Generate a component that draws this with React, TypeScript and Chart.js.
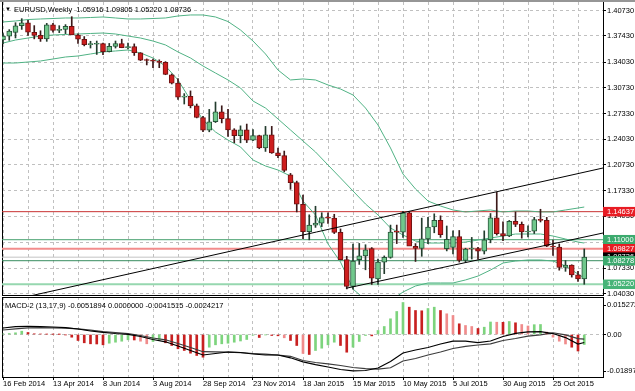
import React, { useEffect, useRef } from 'react';
import { Chart, registerables } from 'chart.js';

Chart.register(...registerables);

// ---------- weekly EURUSD candles, 16 Feb 2014 .. 29 Nov 2015 ----------
const opens = [1.3692,1.3740,1.3790,1.3875,1.3912,1.3791,1.3750,1.3705,1.3886,1.3813,1.3829,1.3868,1.3755,1.3700,1.3630,1.3635,1.3643,1.3540,1.3608,1.3645,1.3590,1.3605,1.3525,1.3430,1.3425,1.3415,1.3400,1.3240,1.3130,1.2950,1.2960,1.2835,1.2685,1.2520,1.2630,1.2760,1.2670,1.2525,1.2450,1.2525,1.2390,1.2450,1.2290,1.2460,1.2226,1.2190,1.1940,1.1840,1.1560,1.1205,1.1290,1.1315,1.1388,1.1380,1.1195,1.0842,1.0495,1.0840,1.0890,1.0985,1.0590,1.0810,1.0870,1.1200,1.1198,1.1450,1.1015,1.0986,1.1110,1.1265,1.1350,1.0985,1.1000,1.1140,1.0830,1.0980,1.0985,1.0950,1.1100,1.1385,1.1180,1.1150,1.1340,1.1300,1.1200,1.1210,1.1360,1.1350,1.1015,1.1005,1.0740,1.0770,1.0645,1.05916];
const highs = [1.3773,1.3825,1.3915,1.3967,1.3947,1.3877,1.3810,1.3906,1.3905,1.3876,1.3890,1.3993,1.3770,1.3735,1.3674,1.3677,1.3652,1.3646,1.3677,1.3701,1.3650,1.3640,1.3526,1.3445,1.3444,1.3433,1.3410,1.3250,1.3190,1.2995,1.3030,1.2860,1.2700,1.2790,1.2886,1.2837,1.2790,1.2540,1.2577,1.2600,1.2530,1.2456,1.2570,1.2570,1.2290,1.2250,1.1960,1.1860,1.1680,1.1423,1.1534,1.1450,1.1450,1.1430,1.1240,1.0885,1.1043,1.1052,1.1035,1.0998,1.0850,1.0890,1.1290,1.1290,1.1467,1.1460,1.1050,1.1380,1.1390,1.1436,1.1410,1.1278,1.1215,1.1220,1.0990,1.1130,1.1000,1.1215,1.1440,1.1714,1.1333,1.1350,1.1460,1.1330,1.1280,1.1390,1.1495,1.1390,1.1095,1.1045,1.0830,1.0775,1.0690,1.09805];
const lows = [1.3642,1.3686,1.3717,1.3828,1.3749,1.3705,1.3672,1.3673,1.3793,1.3786,1.3773,1.3758,1.3647,1.3614,1.3586,1.3503,1.3500,1.3535,1.3586,1.3590,1.3575,1.3490,1.3423,1.3367,1.3333,1.3331,1.3240,1.3120,1.2920,1.2860,1.2810,1.2680,1.2500,1.2500,1.2620,1.2615,1.2440,1.2358,1.2357,1.2360,1.2385,1.2280,1.2245,1.2220,1.2165,1.1980,1.1754,1.1460,1.1115,1.1098,1.1260,1.1270,1.1310,1.1180,1.0840,1.0462,1.0458,1.0780,1.0710,1.0520,1.0520,1.0660,1.0860,1.1050,1.1130,1.1050,1.0818,1.0885,1.1050,1.1190,1.1130,1.0955,1.0915,1.0810,1.0808,1.0850,1.0848,1.0915,1.1060,1.1160,1.1087,1.1140,1.1270,1.1120,1.1135,1.1180,1.1330,1.1010,1.0895,1.0705,1.0690,1.0615,1.0560,1.05220];
const closes = [1.3740,1.3805,1.3875,1.3912,1.3791,1.3750,1.3705,1.3886,1.3813,1.3829,1.3868,1.3755,1.3700,1.3630,1.3635,1.3643,1.3540,1.3608,1.3645,1.3590,1.3605,1.3525,1.3430,1.3425,1.3415,1.3400,1.3245,1.3130,1.2950,1.2960,1.2835,1.2685,1.2520,1.2630,1.2760,1.2670,1.2525,1.2450,1.2525,1.2390,1.2450,1.2290,1.2460,1.2226,1.2190,1.2000,1.1840,1.1560,1.1205,1.1290,1.1315,1.1388,1.1380,1.1195,1.0842,1.0495,1.0822,1.0892,1.0970,1.0600,1.0810,1.0870,1.1200,1.1198,1.1450,1.1015,1.0986,1.1110,1.1265,1.1350,1.1165,1.1105,1.1140,1.0830,1.0980,1.0985,1.0950,1.1100,1.1385,1.1180,1.1150,1.1340,1.1300,1.1200,1.1210,1.1360,1.1350,1.1015,1.1005,1.0740,1.0770,1.0645,1.0590,1.08736];

// Bollinger bands (bar index -> price)
const bandIdx = [0,2,4,6,8,10,12,14,16,18,20,22,24,26,28,30,32,34,36,38,40,42,44,46,48,50,52,54,56,58,60,62,64,66,68,70,72,74,76,78,80,82,84,86,88,90,92,93];
const bandUpper = [1.3924,1.3937,1.3956,1.3963,1.3969,1.3976,1.3976,1.3982,1.3989,1.3976,1.3963,1.3963,1.3969,1.3976,1.4002,1.4015,1.4015,1.3989,1.3930,1.3820,1.3677,1.3509,1.3301,1.3172,1.3185,1.3172,1.3107,1.3055,1.2977,1.2808,1.2588,1.2290,1.1952,1.1758,1.1602,1.1537,1.1486,1.1460,1.1473,1.1486,1.1460,1.1473,1.1473,1.1460,1.1460,1.1486,1.1511,1.1524];
const bandMiddle = [1.3651,1.3690,1.3716,1.3742,1.3755,1.3762,1.3768,1.3775,1.3781,1.3768,1.3742,1.3716,1.3677,1.3626,1.3535,1.3457,1.3353,1.3262,1.3172,1.3068,1.2899,1.2808,1.2666,1.2523,1.2380,1.2238,1.2069,1.1901,1.1732,1.1563,1.1421,1.1252,1.1161,1.1083,1.1057,1.1057,1.1057,1.1070,1.1096,1.1122,1.1148,1.1174,1.1174,1.1174,1.1148,1.1109,1.1070,1.1057];
const bandLower = [1.3392,1.3392,1.3405,1.3418,1.3444,1.3470,1.3483,1.3509,1.3535,1.3548,1.3561,1.3522,1.3457,1.3353,1.3172,1.2912,1.2653,1.2497,1.2393,1.2303,1.2134,1.2056,1.2004,1.1926,1.1600,1.1421,1.1045,1.0811,1.0461,1.0318,1.0253,1.0305,1.0422,1.0500,1.0539,1.0539,1.0539,1.0578,1.0629,1.0707,1.0798,1.0824,1.0837,1.0837,1.0824,1.0759,1.0655,1.0604];

// trend lines (bar index, price)
const trendUpX = [0, 96];
const trendUpY = [1.0292, 1.2030];
const trendLowX = [55, 96];
const trendLowY = [1.0472, 1.1187];

// horizontal levels
const levelValues = [1.14637, 1.11000, 1.09827, 1.08736, 1.08278, 1.05220];

// price axis ticks
const priceTicks = [1.40730,1.37430,1.34030,1.30730,1.27330,1.24030,1.20730,1.17330,1.14030,1.10630,1.07330,1.04030];

// date axis
const gridIdx = [0,4,8,12,16,20,24,28,32,36,40,44,48,52,56,60,64,68,72,76,80,84,88,92];
const dateLabels = ['16 Feb 2014','13 Apr 2014','8 Jun 2014','3 Aug 2014','28 Sep 2014','23 Nov 2014','18 Jan 2015','15 Mar 2015','10 May 2015','5 Jul 2015','30 Aug 2015','25 Oct 2015'];

// MACD-2 (13,17,9)
const histValues = [0.00026,0.00052,0.00088,0.00171,0.00104,0.00036,0.00026,0.00016,0.0001,0.00005,-0.00016,-0.0014,-0.00311,-0.00431,-0.00483,-0.00493,-0.00535,-0.00452,-0.004,-0.00348,-0.00275,-0.00285,-0.00348,-0.00483,-0.00363,-0.00311,-0.00431,-0.00571,-0.00742,-0.0083,-0.0097,-0.0109,-0.01178,-0.00659,-0.00535,-0.00483,-0.00452,-0.004,-0.00337,-0.0026,-0.00036,-0.00156,-0.00016,-0.00052,-0.00067,-0.00171,-0.00311,-0.00571,-0.00986,-0.01038,-0.0083,-0.00711,-0.00535,-0.004,-0.00571,-0.00919,-0.00659,-0.00363,-0.00052,-0.0007,0.00208,0.00415,0.00815,0.01194,0.01661,0.01417,0.01245,0.0123,0.01349,0.01417,0.01245,0.01074,0.00986,0.00555,0.00467,0.00415,0.00311,0.00379,0.00649,0.00638,0.00633,0.00675,0.00607,0.00519,0.00441,0.00509,0.00519,0.00119,-0.0014,-0.00348,-0.00493,-0.00659,-0.00856,-0.0051894];
const histState = ('GGGG' + 'RRRRRRRRRRRRR' + 'GGGG' + 'RPP' + 'GG' + 'RRRRRRR' + 'GGGGGGGG' + 'RGRRPRRPR' + 'GGGG' + 'RR' + 'GGG' + 'R' + 'GGGGG' + 'RRR' + 'GG' + 'RPPRPPR' + 'GG' + 'PRGRPP' + 'GG' + 'RPPPRRG').split('');
const macdMain = [0.00337,0.00405,0.00426,0.00415,0.00389,0.00353,0.00285,0.00182,0.00114,0.00052,0.00005,-0.00104,-0.00259,-0.00379,-0.00597,-0.0083,-0.01064,-0.00986,-0.00908,-0.00934,-0.01012,-0.01064,-0.01064,-0.01209,-0.01417,-0.01562,-0.01687,-0.01816,-0.01884,-0.01868,-0.01738,-0.01401,-0.0096,-0.00804,-0.00675,-0.00493,-0.00348,-0.00348,-0.0042,-0.00337,-0.00104,0.00062,0.0014,0.00145,0.0005,-0.0016,-0.005,-0.0041515];
const macdSignal = [0.00234,0.00296,0.00348,0.00358,0.00348,0.00327,0.00296,0.00223,0.0015,0.00104,0.00042,-0.00052,-0.00182,-0.00275,-0.00467,-0.00675,-0.00893,-0.00903,-0.00919,-0.00939,-0.00986,-0.01022,-0.01074,-0.01131,-0.01349,-0.01453,-0.01521,-0.01609,-0.01713,-0.0177,-0.01801,-0.01728,-0.01375,-0.01245,-0.01064,-0.00908,-0.00727,-0.00612,-0.00545,-0.00483,-0.00311,-0.00208,-0.00088,-0.00016,0.0009,-0.0002,-0.0021,-0.0024217];
const macdTicks = [0.015272, 0, -0.018970];

// ---------- styles ----------
const FONT = '"Liberation Sans", Arial, sans-serif';
const FS = 7.5;
const X_MIN = -0.16;
const X_MAX = 96;
const GRID = 'rgb(192,192,192)';
const BAND = 'rgb(80,178,132)';
const levelStyles = [
  { line: 'rgb(200,50,50)', width: 1, box: 'rgb(232,28,36)', text: '#fff' },
  { line: 'rgb(70,160,110)', width: 1, box: 'rgb(60,170,110)', text: '#fff' },
  { line: 'rgb(242,140,140)', width: 2, box: 'rgb(232,28,36)', text: '#fff' },
  { line: 'rgb(195,195,195)', width: 1, box: 'rgb(0,0,0)', text: '#fff' },
  { line: 'rgb(55,140,95)', width: 1, box: 'rgb(60,170,110)', text: '#fff' },
  { line: 'rgb(150,215,175)', width: 2, box: 'rgb(70,180,120)', text: '#fff' },
];
const histColors: Record<string, string> = { G: 'rgb(125,212,125)', R: 'rgb(200,32,32)', P: 'rgb(240,140,140)' };

const font = { family: FONT, size: FS, lineHeight: 1 };

function noPad(s: any) {
  s.paddingLeft = 0; s.paddingRight = 0; s.paddingTop = 0; s.paddingBottom = 0;
}

const leftBorderAxis = {
  type: 'linear', position: 'left', display: true,
  ticks: { display: false }, grid: { drawOnChartArea: false, drawTicks: false },
  border: { display: true, color: '#000', width: 1 },
  afterFit: (s: any) => { s.width = 0; noPad(s); },
};

export default function App() {
  const mainRef = useRef<HTMLCanvasElement | null>(null);
  const macdRef = useRef<HTMLCanvasElement | null>(null);

  useEffect(() => {
    const idx = opens.map((_, i) => i);
    const bull = idx.map(i => closes[i] >= opens[i]);
    const pts = (xs: number[], ys: number[]) => xs.map((x, k) => ({ x, y: ys[k] }));
    const lineDs = (data: any[], color: string, width: number, order: number) => ({
      type: 'line', data, borderColor: color, borderWidth: width, pointRadius: 0, tension: 0, order,
    });

    const main = new Chart(mainRef.current as HTMLCanvasElement, {
      type: 'bar',
      data: {
        datasets: [
          ...levelValues.map((v, k) => lineDs([{ x: X_MIN, y: v }, { x: X_MAX, y: v }], levelStyles[k].line, levelStyles[k].width, 10)),
          lineDs(pts(bandIdx, bandUpper), BAND, 1, 9),
          lineDs(pts(bandIdx, bandMiddle), BAND, 1, 9),
          lineDs(pts(bandIdx, bandLower), BAND, 1, 9),
          {
            type: 'bar', data: idx.map(i => ({ x: i, y: [lows[i], highs[i]] })),
            backgroundColor: bull.map(b => (b ? 'rgb(35,60,45)' : 'rgb(60,25,25)')),
            barThickness: 1, grouped: false, order: 5,
          },
          {
            type: 'bar', data: idx.map(i => ({ x: i, y: [opens[i], closes[i]] })),
            backgroundColor: bull.map(b => (b ? 'rgb(112,200,140)' : 'rgb(205,30,30)')),
            borderColor: bull.map(b => (b ? 'rgb(40,85,58)' : 'rgb(110,18,18)')),
            borderWidth: 1, borderSkipped: false, barThickness: 5, minBarLength: 1, grouped: false, order: 4,
          },
          lineDs(pts(trendUpX, trendUpY), '#000', 1, 1),
          lineDs(pts(trendLowX, trendLowY), '#000', 1, 1),
        ] as any,
      },
      options: {
        responsive: false, animation: false, devicePixelRatio: 1, events: [],
        layout: { padding: { left: 2, top: 2, right: 0, bottom: 2 } },
        plugins: { legend: { display: false }, tooltip: { enabled: false } },
        scales: {
          x: {
            type: 'linear', min: X_MIN, max: X_MAX, offset: false,
            afterBuildTicks: (s: any) => { s.ticks = gridIdx.map(v => ({ value: v })); },
            afterFit: (s: any) => { s.height = 0; noPad(s); },
            ticks: { display: false },
            grid: { color: GRID, drawTicks: false, offset: false },
            border: { display: true, color: '#000', dash: [3, 3] },
          },
          y: {
            type: 'linear', position: 'right', min: 1.03830, max: 1.41832,
            afterBuildTicks: (s: any) => { s.ticks = [...priceTicks, ...levelValues].map(v => ({ value: v })); },
            afterFit: (s: any) => { s.width = 32; noPad(s); },
            ticks: {
              autoSkip: false, font, padding: 1,
              callback: (v: any) => Number(v).toFixed(5),
              color: (c: any) => (c.index >= priceTicks.length ? levelStyles[c.index - priceTicks.length].text : '#000'),
              showLabelBackdrop: (c: any) => c.index >= priceTicks.length,
              backdropColor: (c: any) => (c.index >= priceTicks.length ? levelStyles[c.index - priceTicks.length].box : 'rgba(0,0,0,0)'),
              backdropPadding: { left: 4, right: 8, top: 1, bottom: 1 },
            },
            grid: {
              color: (c: any) => (c.index < priceTicks.length ? GRID : 'rgba(0,0,0,0)'),
              drawTicks: true, tickLength: 3, tickColor: '#000',
            },
            border: { display: true, color: '#000', dash: [3, 3] },
          },
          yl: leftBorderAxis,
        } as any,
      },
    } as any);

    const macd = new Chart(macdRef.current as HTMLCanvasElement, {
      type: 'bar',
      data: {
        datasets: [
          {
            type: 'bar', data: idx.map(i => ({ x: i, y: histValues[i] })),
            backgroundColor: idx.map(i => histColors[histState[i]]),
            barThickness: 2, grouped: false, order: 3,
          },
          lineDs(pts(bandIdx, macdSignal), 'rgb(60,60,60)', 1.2, 2),
          lineDs(pts(bandIdx, macdMain), '#000', 1.2, 1),
        ] as any,
      },
      options: {
        responsive: false, animation: false, devicePixelRatio: 1, events: [],
        layout: { padding: { left: 2, top: 1, right: 0, bottom: 0 } },
        plugins: { legend: { display: false }, tooltip: { enabled: false } },
        scales: {
          x: {
            type: 'linear', min: X_MIN, max: X_MAX, offset: false,
            afterBuildTicks: (s: any) => { s.ticks = gridIdx.map(v => ({ value: v })); },
            afterFit: (s: any) => { s.height = 14; noPad(s); },
            ticks: {
              autoSkip: false, maxRotation: 0, minRotation: 0, align: 'start', padding: 0, font, color: '#000',
              callback: (_v: any, i: number) => (i % 2 === 0 ? dateLabels[i / 2] : ''),
            },
            grid: {
              color: GRID, offset: false, drawTicks: true, tickLength: 3,
              tickColor: (c: any) => (c.index % 2 === 0 ? '#000' : 'rgba(0,0,0,0)'),
            },
            border: { display: true, color: '#000', dash: [3, 3] },
          },
          xt: {
            type: 'linear', position: 'top', display: true, min: X_MIN, max: X_MAX,
            ticks: { display: false }, grid: { drawOnChartArea: false, drawTicks: false },
            border: { display: true, color: '#000' },
            afterFit: (s: any) => { s.height = 0; noPad(s); },
          },
          y: {
            type: 'linear', position: 'right', min: -0.02206, max: 0.01946,
            afterBuildTicks: (s: any) => { s.ticks = macdTicks.map(v => ({ value: v })); },
            afterFit: (s: any) => { s.width = 32; noPad(s); },
            ticks: {
              autoSkip: false, font, padding: 1, color: '#000',
              callback: (v: any) => (Number(v) === 0 ? '0.00' : Number(v).toFixed(6)),
            },
            grid: {
              color: (c: any) => (c.tick && c.tick.value === 0 ? GRID : 'rgba(0,0,0,0)'),
              drawTicks: true, tickLength: 3, tickColor: '#000',
            },
            border: { display: true, color: '#000', dash: [3, 3] },
          },
          yl: leftBorderAxis,
        } as any,
      },
    } as any);

    return () => { main.destroy(); macd.destroy(); };
  }, []);

  const txt: React.CSSProperties = {
    position: 'absolute', fontFamily: FONT, fontSize: FS, lineHeight: '9px', color: '#000', whiteSpace: 'pre',
  };

  return (
    <div style={{ position: 'fixed', left: 0, top: 0, width: 635, height: 391, background: '#fff', overflow: 'hidden' }}>
      <canvas ref={mainRef} width={635} height={297} style={{ position: 'absolute', left: 0, top: 0 }} />
      <canvas ref={macdRef} width={635} height={95} style={{ position: 'absolute', left: 0, top: 296 }} />
      <div style={{ position: 'absolute', left: 0, top: 0, width: 635, height: 2, background: 'rgb(150,150,150)' }} />
      <div style={{ ...txt, left: 5, top: 5, fontSize: 6 }}>▼</div>
      <div style={{ ...txt, left: 14, top: 5 }}>{'EURUSD,Weekly  1.05916 1.09805 1.05220 1.08736'}</div>
      <div style={{ ...txt, left: 5, top: 301 }}>{'MACD-2 (13,17,9) -0.0051894 0.0000000 -0.0041515 -0.0024217'}</div>
    </div>
  );
}
